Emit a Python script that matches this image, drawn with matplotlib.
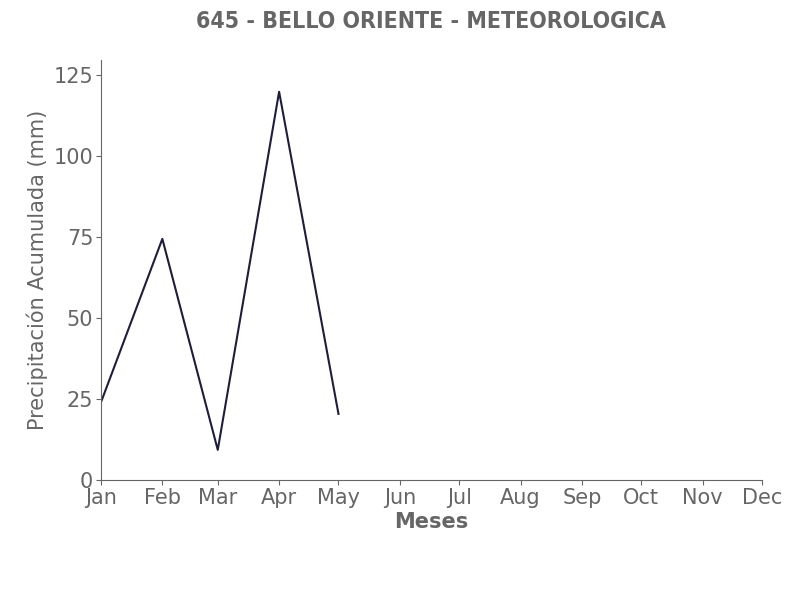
import pandas as pd
import matplotlib
matplotlib.use("Agg")
from matplotlib import pyplot as plt
import matplotlib.dates as mdates

# monthly accumulated precipitation (mm)
months = pd.date_range("2023-01-01", periods=5, freq="MS")
precip = [24.0, 74.4, 9.3, 119.8, 20.4]
station = "645 - BELLO ORIENTE - METEOROLOGICA"

gray = "#666666"
line_color = "#1f1d3d"

fig = plt.figure(figsize=(8.06, 6.0), dpi=100)
ax = fig.add_axes([101 / 806, 120 / 600, 661 / 806, 420 / 600])

ax.plot(months, precip, color=line_color, linewidth=1.5)

ax.set_xlim(pd.Timestamp("2023-01-01"), pd.Timestamp("2023-12-01"))
ax.set_ylim(0, 129.6)
ax.xaxis.set_major_locator(mdates.MonthLocator())
ax.xaxis.set_major_formatter(mdates.DateFormatter("%b"))
ax.set_yticks([0, 25, 50, 75, 100, 125])

for side in ("top", "right"):
    ax.spines[side].set_visible(False)
for side in ("left", "bottom"):
    ax.spines[side].set_color(gray)
ax.tick_params(colors=gray, labelsize=15, pad=2)

ax.set_xlabel("Meses", fontsize=15, fontweight="bold", color=gray, labelpad=3)
ax.set_ylabel("Precipitación Acumulada (mm)", fontsize=15, color=gray, labelpad=4)
fig.suptitle(station, x=431 / 806, y=1 - 21 / 600, va="center",
             fontsize=16.6, fontweight="bold", fontstretch="condensed", color=gray)

fig.savefig("out.png", dpi=100)
